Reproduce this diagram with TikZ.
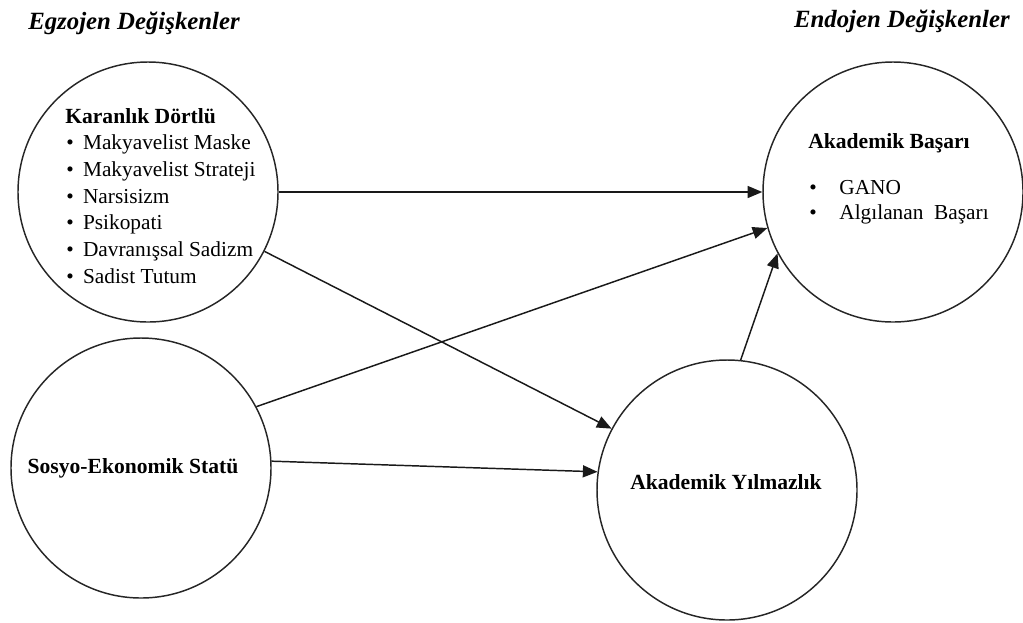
\documentclass[tikz,border=0pt]{standalone}
\usepackage{fontspec}
\setmainfont{Liberation Serif}
\usetikzlibrary{arrows.meta,positioning}

\begin{document}
\begin{tikzpicture}[x=0.75pt,y=-0.75pt,
        var/.style={draw=black!85, line width=1.1pt, circle, minimum size=195pt, inner sep=0pt},
        head/.style={font=\fontsize{16.2}{19}\selectfont\bfseries, anchor=base west, inner sep=0pt},
        title/.style={font=\fontsize{18.6}{22}\selectfont\bfseries\itshape, inner sep=0pt},
        item/.style={font=\fontsize{16}{19}\selectfont, anchor=base west, inner sep=0pt},
        link/.style={draw=black!90, line width=1.1pt, -{Triangle[length=11pt,width=9pt]}}]
        \useasboundingbox (0,0) rectangle (1023,622);
        % Titles
        \node[title, anchor=base west] (exo) at (28,29) {Egzojen Değişkenler};
        \node[title, anchor=base east] (endo) at (1010,27) {Endojen Değişkenler};
        % Variables
        \node[var] (dt) at (148,192) {};
        \node[var] (ses) at (141,468) {};
        \node[var] (ab) at (893,192) {};
        \node[var] (ay) at (727,490) {};
        % Labels
        \node[head] (dtname) at (65,123) {Karanlık Dörtlü};
        \foreach \t [count=\i] in {Makyavelist Maske, Makyavelist Strateji, Narsisizm, Psikopati, Davranışsal Sadizm, Sadist Tutum} {
            \node[item] (dt\i) at (66,{123+26.7*\i}) {\textbullet\hspace{7pt}\t};
        }
        \node[head] (abname) at (808,148) {Akademik Başarı};
        \node[item] (ab1) at (809,194) {\textbullet\hspace{17pt}GANO};
        \node[item] (ab2) at (809,219) {\textbullet\hspace{17pt}Algılanan\ \ Başarı};
        \node[head, anchor=base] (sesname) at (133,473) {Sosyo-Ekonomik Statü};
        \node[head, anchor=base] (ayname) at (726,489) {Akademik Yılmazlık};
        % Paths
        \draw[link] (dt.0) -- (ab.180);
        \draw[link] (dt.-27) -- (ay.152);
        \draw[link] (ses.28) -- (ab.196);
        \draw[link] (ses.3) -- (ay.172);
        \draw[link] (ay.84) -- (ab.208);
\end{tikzpicture}
\end{document}
